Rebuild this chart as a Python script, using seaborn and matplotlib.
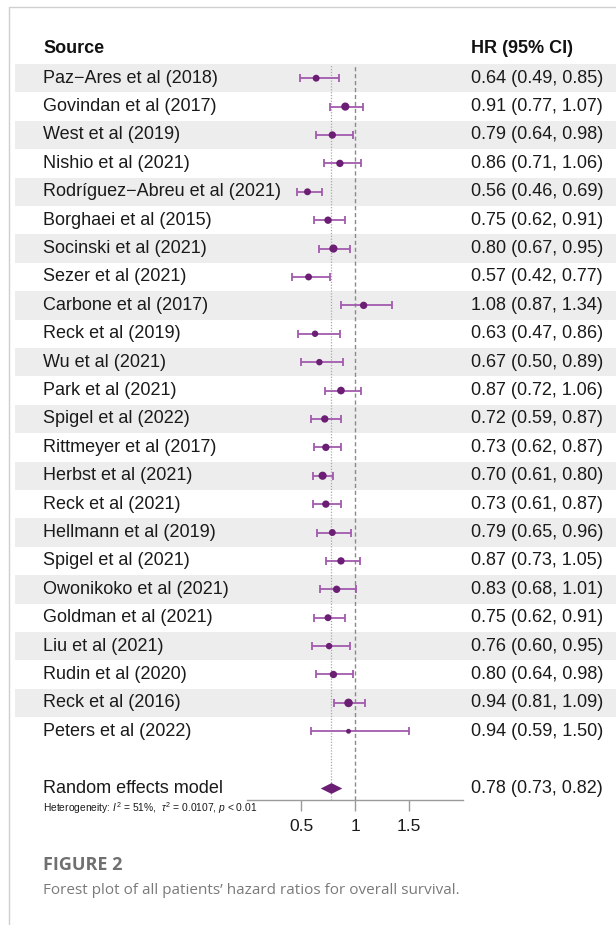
import numpy as np
import pandas as pd
import matplotlib
matplotlib.use("Agg")
import matplotlib.pyplot as plt
from matplotlib.path import Path
from matplotlib.patches import Rectangle
from matplotlib.lines import Line2D
from matplotlib.transforms import blended_transform_factory
import seaborn as sns

# ---- study data -------------------------------------------------------------
studies = [
    "Paz\u2212Ares et al (2018)", "Govindan et al (2017)", "West et al (2019)",
    "Nishio et al (2021)", "Rodríguez\u2212Abreu et al (2021)", "Borghaei et al (2015)",
    "Socinski et al (2021)", "Sezer et al (2021)", "Carbone et al (2017)",
    "Reck et al (2019)", "Wu et al (2021)", "Park et al (2021)",
    "Spigel et al (2022)", "Rittmeyer et al (2017)", "Herbst et al (2021)",
    "Reck et al (2021)", "Hellmann et al (2019)", "Spigel et al (2021)",
    "Owonikoko et al (2021)", "Goldman et al (2021)", "Liu et al (2021)",
    "Rudin et al (2020)", "Reck et al (2016)", "Peters et al (2022)",
]
hr = [0.64, 0.91, 0.79, 0.86, 0.56, 0.75, 0.80, 0.57, 1.08, 0.63, 0.67, 0.87,
      0.72, 0.73, 0.70, 0.73, 0.79, 0.87, 0.83, 0.75, 0.76, 0.80, 0.94, 0.94]
ci_low = [0.49, 0.77, 0.64, 0.71, 0.46, 0.62, 0.67, 0.42, 0.87, 0.47, 0.50, 0.72,
          0.59, 0.62, 0.61, 0.61, 0.65, 0.73, 0.68, 0.62, 0.60, 0.64, 0.81, 0.59]
ci_high = [0.85, 1.07, 0.98, 1.06, 0.69, 0.91, 0.95, 0.77, 1.34, 0.86, 0.89, 1.06,
           0.87, 0.87, 0.80, 0.87, 0.96, 1.05, 1.01, 0.91, 0.95, 0.98, 1.09, 1.50]
weight = [3.8, 5.3, 4.3, 4.3, 3.8, 4.3, 5.3, 3.8, 4.3, 3.3, 3.3, 4.7,
          4.3, 4.3, 5.3, 4.3, 3.8, 4.3, 4.3, 3.8, 3.3, 4.3, 5.8, 1.9]

pooled_label = "Random effects model"
pooled_hr = 0.78
pooled_low = 0.73
pooled_high = 0.82
heterogeneity = r"Heterogeneity: $I^2$ = 51%,  $\tau^2$ = 0.0107, $p$ < 0.01"
x_ticks = [0.5, 1, 1.5]

# ---- styling ------------------------------------------------------------------
sns.set_theme(style="white")
plt.rcParams["font.family"] = ["Liberation Sans", "DejaVu Sans"]
plt.rcParams["mathtext.fontset"] = "custom"
plt.rcParams["mathtext.rm"] = "Liberation Sans"
plt.rcParams["mathtext.it"] = "Liberation Sans:italic"

POINT = "#6b1e74"
BAR = "#a25aad"
BAND = "#ededed"

W, H = 616, 925
fig = plt.figure(figsize=(W / 100, H / 100), dpi=100)

# forest panel: HR 0..2 between x=247 and x=463 px, rows from y=64 to y=800 px
ax = fig.add_axes([247 / W, (H - 800) / H, (463 - 247) / W, (800 - 64) / H])

df = pd.DataFrame({"study": studies, "hr": hr, "low": ci_low, "high": ci_high,
                   "weight": weight})
df["row"] = np.arange(len(df))
pooled_row = len(df) + 1

ax.set_xlim(0, 2)
ax.set_ylim(pooled_row + 0.42, -0.5)

# alternating row shading across the full width of the table
band_tf = blended_transform_factory(fig.transFigure, ax.transData)
for r in df["row"]:
    if r % 2 == 0:
        ax.add_patch(Rectangle((15 / W, r - 0.5), 1 - 15 / W, 1, transform=band_tf,
                               facecolor=BAND, edgecolor="none", clip_on=False, zorder=0))

# reference lines: no effect and pooled estimate
ax.axvline(1, color="#8a8a8a", lw=1.0, ls=(0, (3, 2)), zorder=1)
ax.axvline(pooled_hr, color="#a8a8a8", lw=0.9, ls=(0, (1, 1.3)), zorder=1)

# confidence intervals
ax.errorbar(df["hr"], df["row"],
            xerr=[df["hr"] - df["low"], df["high"] - df["hr"]],
            fmt="none", ecolor=BAR, elinewidth=1.3, capsize=2.9, capthick=1.3, zorder=2)

# study estimates sized by weight
sns.scatterplot(data=df, x="hr", y="row", size="weight", sizes=(0, 38),
                size_norm=(0, 5.8), color=POINT, linewidth=0, legend=False,
                ax=ax, zorder=3)

# pooled estimate as a flat diamond
diamond = Path([(-1, 0), (0, 0.5), (1, 0), (0, -0.5), (-1, 0)],
               [Path.MOVETO, Path.LINETO, Path.LINETO, Path.LINETO, Path.CLOSEPOLY])
pooled_df = pd.DataFrame({"hr": [pooled_hr], "row": [pooled_row]})
sns.scatterplot(data=pooled_df, x="hr", y="row", marker=diamond, s=240,
                color=POINT, linewidth=0, legend=False, ax=ax, zorder=3)

# axis styling
for side in ["left", "right", "top"]:
    ax.spines[side].set_visible(False)
ax.spines["bottom"].set_color("#9a9a9a")
ax.spines["bottom"].set_linewidth(1.0)
ax.set_xticks(x_ticks)
ax.set_xticklabels([f"{t:g}" for t in x_ticks])
ax.set_yticks([])
ax.tick_params(axis="x", bottom=True, length=8, width=1.0, color="#9a9a9a",
               labelsize=12.5, labelcolor="#1a1a1a", pad=5.5)
ax.set_xlabel("")
ax.set_ylabel("")
ax.patch.set_alpha(0)

# table text
left_x, right_x = 43 / W, 471 / W
ax.text(left_x, -1.05, "Source", transform=band_tf, fontsize=13, fontweight="bold",
        va="center", ha="left", color="#111111")
ax.text(right_x, -1.05, "HR (95% CI)", transform=band_tf, fontsize=13,
        fontweight="bold", va="center", ha="left", color="#111111")
for _, row in df.iterrows():
    ax.text(left_x, row["row"], row["study"], transform=band_tf, fontsize=13,
            va="center", ha="left", color="#1a1a1a")
    ax.text(right_x, row["row"], f"{row['hr']:.2f} ({row['low']:.2f}, {row['high']:.2f})",
            transform=band_tf, fontsize=13, va="center", ha="left", color="#1a1a1a")
ax.text(left_x, pooled_row, pooled_label, transform=band_tf, fontsize=13,
        va="center", ha="left", color="#1a1a1a")
ax.text(right_x, pooled_row,
        f"{pooled_hr:.2f} ({pooled_low:.2f}, {pooled_high:.2f})",
        transform=band_tf, fontsize=13, va="center", ha="left", color="#1a1a1a")
ax.text(left_x, pooled_row + 0.72, heterogeneity, transform=band_tf, fontsize=7.4,
        va="center", ha="left", color="#1a1a1a")

# frame and caption
fig.add_artist(Line2D([9 / W, 1], [(H - 7) / H, (H - 7) / H], color="#cfcfcf",
                      lw=1.0, transform=fig.transFigure))
fig.add_artist(Line2D([9 / W, 9 / W], [0, (H - 7) / H], color="#cfcfcf",
                      lw=1.0, transform=fig.transFigure))
fig.text(43 / W, (H - 865) / H, "FIGURE 2", fontsize=13, fontweight="bold",
         family=["Open Sans", "DejaVu Sans"], color="#707070", va="center", ha="left")
fig.text(43 / W, (H - 890) / H,
         "Forest plot of all patients\u2019 hazard ratios for overall survival.",
         fontsize=11, family=["Open Sans", "DejaVu Sans"], color="#7a7a7a",
         va="center", ha="left")

fig.savefig("out.png", dpi=100, facecolor="white")
